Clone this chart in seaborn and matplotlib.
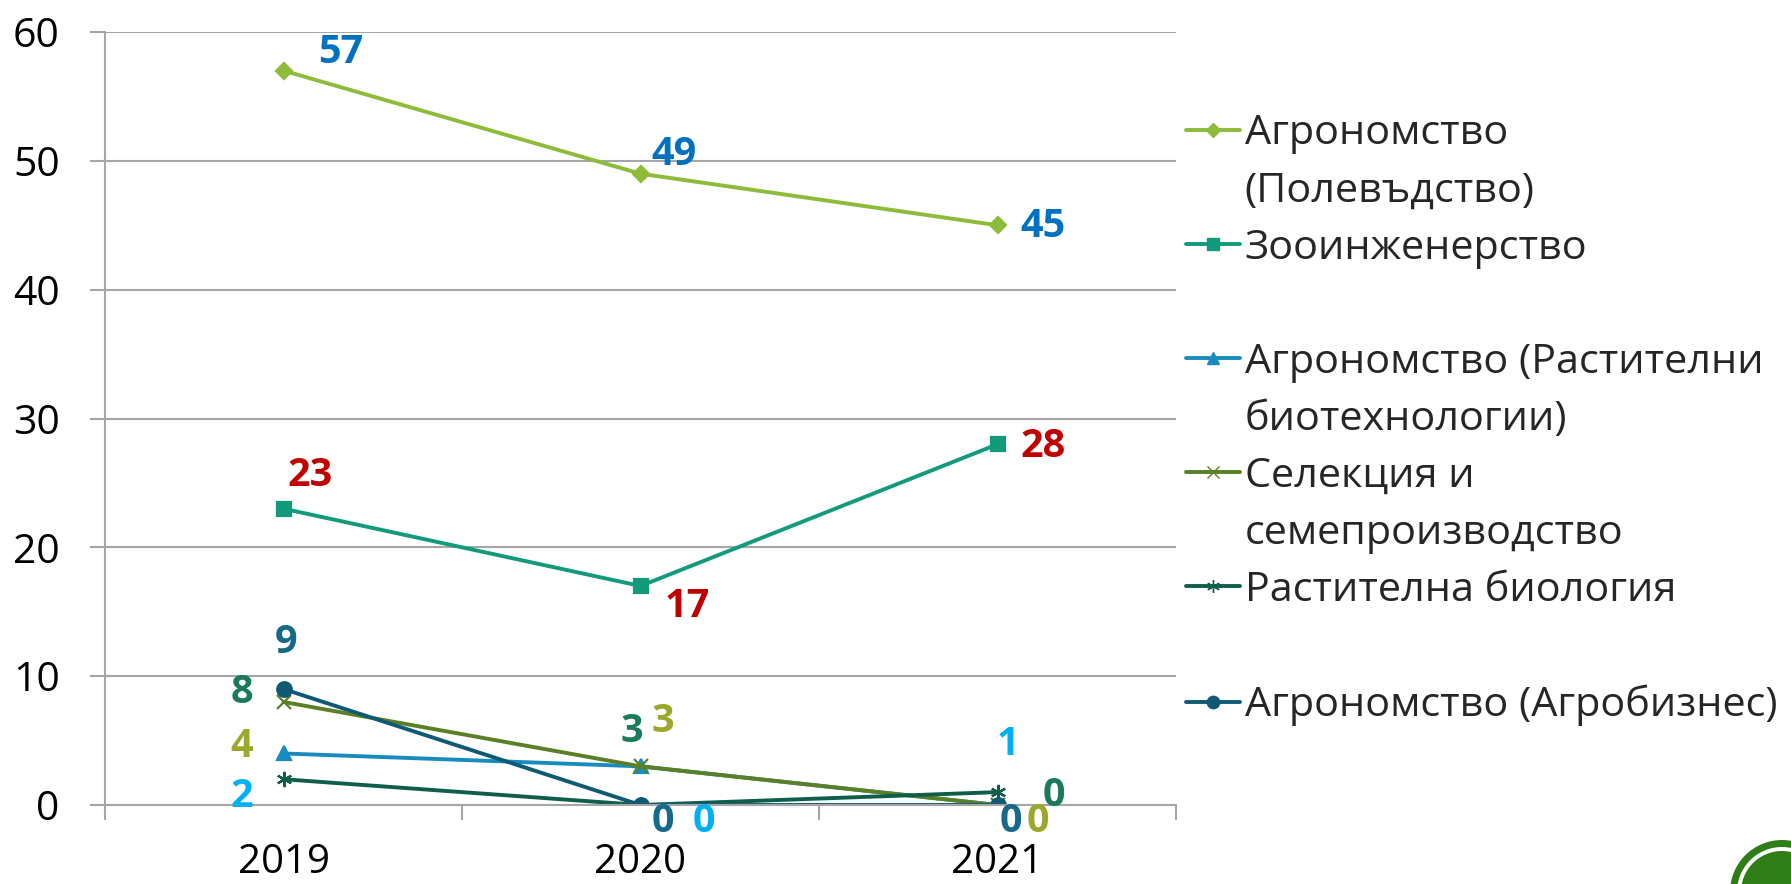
import matplotlib
matplotlib.use("Agg")
import matplotlib.pyplot as plt
import seaborn as sns
from matplotlib.lines import Line2D
from matplotlib.patches import Ellipse

# ---------------- data ----------------
years = ["2019", "2020", "2021"]
polevadstvo = [57, 49, 45]
zooinzhenerstvo = [23, 17, 28]
rast_biotech = [4, 3, 0]
selekcia = [8, 3, 0]
rast_biologia = [2, 0, 1]
agrobiznes = [9, 0, 0]
y_ticks = [0, 10, 20, 30, 40, 50, 60]

legend_rows = [
    ["Агрономство", "(Полевъдство)"],
    ["Зооинженерство", ""],
    ["Агрономство (Растителни", "биотехнологии)"],
    ["Селекция и", "семепроизводство"],
    ["Растителна биология", ""],
    ["Агрономство (Агробизнес)"],
]

# ---------------- styles ----------------
series = [polevadstvo, zooinzhenerstvo, rast_biotech, selekcia, rast_biologia, agrobiznes]
line_colors = ["#8DBB3A", "#119B7A", "#1A8BBF", "#5B7F25", "#0F5E4A", "#0E5A75"]
markers = ["D", "s", "^", "x", (6, 2, 0), "o"]
msizes = [8, 9.5, 10, 10, 11, 10.5]
label_colors = ["#0070C0", "#C00000", "#9BA82C", "#1A7A5A", "#00B0F0", "#17698A"]
# label offsets in pixels (dx right, dy up)
offsets = [
    [(57, 18), (33, 19), (45, -1)],
    [(27, 33), (47, -21), (46, -2)],
    [(-42, 7), (22, 45), (40, -17)],
    [(-42, 9), (-9, 35), (56, 9)],
    [(-42, -17), (63, -17), (10, 48)],
    [(3, 47), (22, -17), (13, -17)],
]

sns.set_style("white")
plt.rcParams["font.family"] = ["Open Sans", "DejaVu Sans"]

W, H = 1791, 884
fig = plt.figure(figsize=(W / 100, H / 100), dpi=100)
ax = fig.add_axes([105 / W, 1 - 805 / H, (1176 - 105) / W, (805 - 32) / H])

grid_c = "#A6A6A6"
ax.set_axisbelow(True)
ax.yaxis.grid(True, color=grid_c, linewidth=1.5)

for vals, c, m, ms in zip(series, line_colors, markers, msizes):
    sns.lineplot(x=years, y=vals, color=c, marker=m, markersize=ms,
                 markeredgecolor=c, markerfacecolor=c, markeredgewidth=1.6,
                 linewidth=2.8, ax=ax, legend=False, sort=False)

for vals, lc, offs in zip(series, label_colors, offsets):
    for i, v in enumerate(vals):
        ax.annotate(str(v), xy=(i, v), xytext=offs[i], textcoords="offset pixels",
                    ha="center", va="center", fontsize=28.5, fontweight="bold",
                    color=lc, annotation_clip=False)

ax.set_xlim(-0.5, 2.5)
ax.set_ylim(0, 60)
ax.set_yticks(y_ticks)
ax.set_yticklabels([str(t) for t in y_ticks])
ax.set_xticks(range(len(years)))
ax.set_xticklabels(years)
ax.set_xticks([-0.5, 0.5, 1.5, 2.5], minor=True)
ax.set_xlabel("")
ax.set_ylabel("")

ax.tick_params(axis="x", which="major", length=0, pad=27, labelsize=29, labelcolor="black")
ax.tick_params(axis="x", which="minor", length=11, width=1.5, color=grid_c, direction="out", bottom=True)
ax.tick_params(axis="y", which="major", length=11, width=1.5, color=grid_c, direction="out",
               pad=21.5, labelsize=29.5, labelcolor="black", left=True)

for s in ["top", "right"]:
    ax.spines[s].set_visible(False)
for s in ["left", "bottom"]:
    ax.spines[s].set_color(grid_c)
    ax.spines[s].set_linewidth(1.5)

# legend: one row per text line, markers on the first line of each entry
handles, labels = [], []
for (c, m, ms), rows in zip(zip(line_colors, markers, msizes), legend_rows):
    handles.append(Line2D([], [], color=c, marker=m, markersize=ms * 0.85,
                          markeredgecolor=c, markerfacecolor=c, linewidth=2.8))
    labels.append(rows[0])
    for extra in rows[1:]:
        handles.append(Line2D([], [], color="none"))
        labels.append(extra)

leg = fig.legend(handles, labels, loc="upper left",
                 bbox_to_anchor=(1186 / W, 1 - 114 / H),
                 frameon=False, fontsize=29.8, handlelength=1.3,
                 handletextpad=0.12, labelspacing=0.40, borderpad=0, borderaxespad=0)

# logo fragment bottom-right
cx, cy = 1782 / W, 1 - 892 / H
for r, col in [(52, "#2E7D17"), (45, "white"), (41, "#2E7D17")]:
    fig.patches.append(Ellipse((cx, cy), 2 * r / W, 2 * r / H, transform=fig.transFigure,
                               facecolor=col, edgecolor="none", clip_on=False))

fig.savefig("out.png", dpi=100)
